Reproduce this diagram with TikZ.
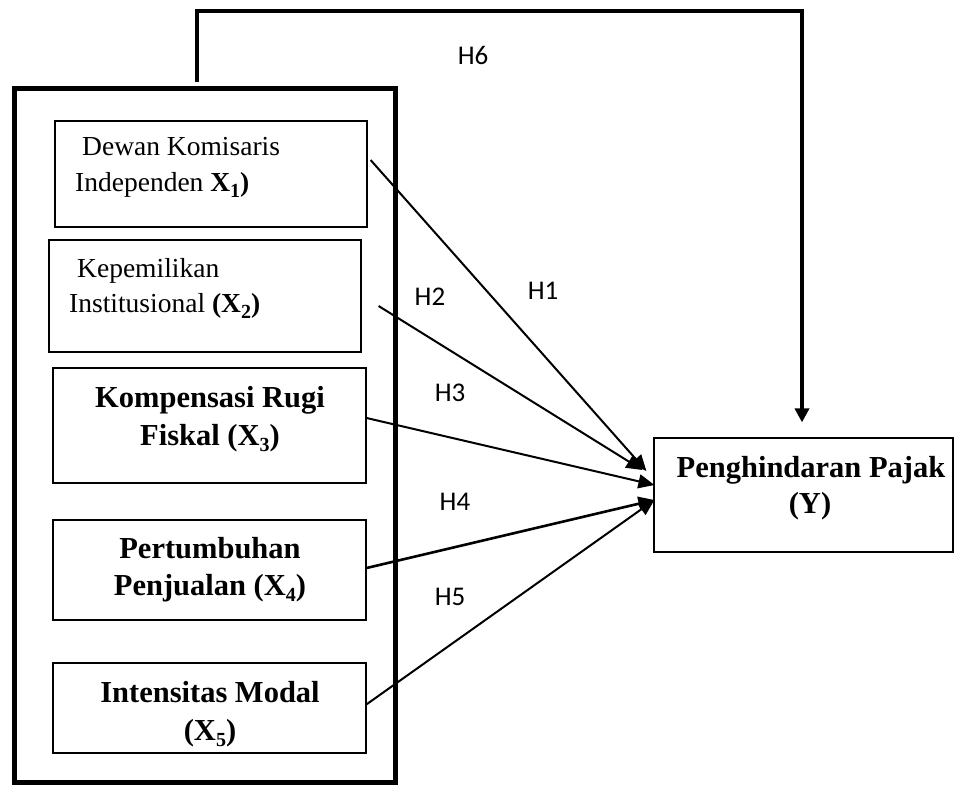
\documentclass[tikz,border=0pt]{standalone}
\usepackage{fontspec}
\setmainfont{Liberation Serif}
\newfontfamily\labfont{Carlito}
\usetikzlibrary{arrows.meta,calc}
\newcommand\subn[1]{\raisebox{-0.22em}{\fontsize{20}{20}\selectfont #1}}
\begin{document}
\begin{tikzpicture}[x=1pt,y=-1pt,
  box/.style={draw,line width=1.2pt,inner sep=0pt},
  reg/.style={font=\fontsize{27.5}{32}\selectfont,inner sep=0pt},
  bld/.style={font=\fontsize{30.5}{34}\selectfont\bfseries,inner sep=0pt},
  hlab/.style={font=\labfont\fontsize{27}{30}\selectfont,inner sep=0pt},
  arr/.style={line width=2pt,-{Triangle[length=16pt,width=14pt]}}]
\useasboundingbox (0,0) rectangle (954,785);
% outer group box
\node[draw,line width=5pt,minimum width=381pt,minimum height=694pt,inner sep=0pt] (grp) at (204.5,435) {};
% inner boxes
\node[box,minimum width=312pt,minimum height=106pt] (b1) at (211,174) {};
\node[box,minimum width=312pt,minimum height=112pt] (b2) at (205,296) {};
\node[box,minimum width=313pt,minimum height=115pt] (b3) at (209.5,425.5) {};
\node[box,minimum width=313pt,minimum height=100pt] (b4) at (209.5,570) {};
\node[box,minimum width=313pt,minimum height=90pt] (b5) at (209.5,708) {};
\node[box,minimum width=299pt,minimum height=114pt] (yb) at (803.5,495) {};
% texts
\node[reg,anchor=base west] (t1a) at (82,155) {Dewan Komisaris};
\node[reg,anchor=base west] (t1b) at (75,191) {Independen \textbf{X\subn{1})}};
\node[reg,anchor=base west] (t2a) at (77,277) {Kepemilikan};
\node[reg,anchor=base west] (t2b) at (69,312) {Institusional \textbf{(X\subn{2})}};
\node[bld,anchor=base] (t3a) at (210,407) {Kompensasi Rugi};
\node[bld,anchor=base] (t3b) at (210,445) {Fiskal (X\subn{3})};
\node[bld,anchor=base] (t4a) at (210,558) {Pertumbuhan};
\node[bld,anchor=base] (t4b) at (210,595) {Penjualan (X\subn{4})};
\node[bld,anchor=base] (t5a) at (210,702) {Intensitas Modal};
\node[bld,anchor=base] (t5b) at (210,740) {(X\subn{5})};
\node[bld,anchor=base] (tya) at (811,477) {Penghindaran Pajak};
\node[bld,anchor=base] (tyb) at (810,513) {(Y)};
% hypothesis labels
\node[hlab] (h1) at (543,291) {H1};
\node[hlab] (h2) at (430,297) {H2};
\node[hlab] (h3) at (450,393) {H3};
\node[hlab] (h4) at (455,502) {H4};
\node[hlab] (h5) at (450,597) {H5};
\node[hlab] (h6) at (473,55) {H6};
% arrows to Y
\draw[arr] ($(b1.east)+(3,-14)$) -- ($(yb.west)+(-7,-24)$);
\draw[arr] ($(b2.east)+(17,10)$) -- ($(yb.west)+(-11,-25)$);
\draw[arr] ($(b3.east)+(0,-7.5)$) -- ($(yb.west)+(1,-10)$);
\draw[arr,line width=2.6pt] ($(b4.east)+(0,-2)$) -- ($(yb.west)+(1,5)$);
\draw[arr] ($(b5.east)+(-1,-3)$) -- ($(yb.west)+(1,5)$);
% H6 connector
\coordinate (c1) at (197,82);
\coordinate (c2) at (197,11);
\coordinate (c3) at (802,11);
\draw[line width=3.5pt,-{Triangle[length=14pt,width=14pt]}] (c1) -- (c2) -- (c3) -- ($(c3 |- yb.north)+(0,-15)$);
\end{tikzpicture}
\end{document}
